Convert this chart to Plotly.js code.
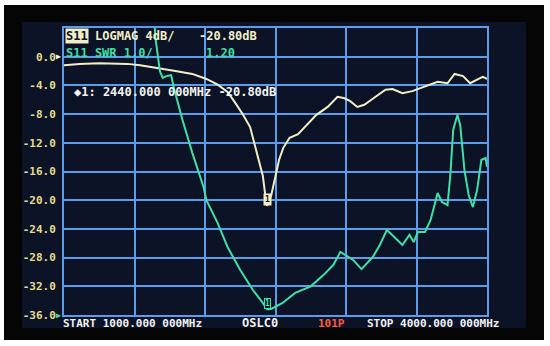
<!DOCTYPE html>
<html>
<head>
<meta charset="utf-8">
<script src="https://cdn.plot.ly/plotly-3.0.1.min.js"></script>
<style>
  html, body { margin: 0; padding: 0; background: #ffffff; }
  #vna { width: 550px; height: 346px; }
</style>
</head>
<body>
<div id="vna"></div>
<script>
// S11 LOGMAG trace (MHz, dB)
var logFreq = [1000, 1110, 1250, 1450, 1540, 1610, 1680, 1790, 1910, 2010, 2090, 2160, 2210, 2270,
  2320, 2350, 2380, 2410, 2425, 2440, 2470, 2500, 2525, 2555, 2600, 2660, 2720, 2790, 2870, 2940,
  2990, 3030, 3080, 3130, 3180, 3280, 3330, 3400, 3470, 3560, 3650, 3720, 3770, 3830, 3880, 3940,
  3970, 4000];
var logMagDb = [-1.2, -1.0, -0.9, -1.0, -1.2, -1.4, -1.7, -2.0, -2.4, -3.1, -3.9, -4.9, -6.3, -8.1,
  -9.8, -12.0, -14.4, -16.6, -18.9, -20.8, -19.3, -16.8, -14.4, -12.7, -11.3, -10.8, -9.5, -8.1, -7.0, -5.6,
  -5.8, -6.2, -7.0, -6.7, -6.0, -4.6, -4.5, -5.1, -4.8, -4.2, -3.5, -3.7, -2.4, -2.7, -3.7, -3.1,
  -2.8, -3.1];

// S11 SWR trace (MHz, ratio)
var swrFreq = [1000, 1400, 1580, 1620, 1650, 1680, 1700, 1730, 1760, 1780, 1840, 1910, 1990, 2010,
  2090, 2160, 2250, 2340, 2410, 2440, 2470, 2550, 2640, 2750, 2840, 2910, 2960, 3010, 3050, 3110,
  3190, 3240, 3290, 3350, 3400, 3450, 3480, 3510, 3560, 3600, 3650, 3680, 3720, 3740, 3760, 3790,
  3810, 3840, 3870, 3900, 3930, 3960, 3990, 4000];
var swrVal = [40, 30, 16, 12.5, 10.6, 9.5, 9.26, 9.33, 9.36, 8.9, 7.8, 6.65, 5.45, 5.0,
  4.2, 3.37, 2.57, 1.87, 1.42, 1.20, 1.21, 1.42, 1.77, 2.0, 2.39, 2.74, 3.2, 3.06, 2.92, 2.6,
  3.02, 3.44, 3.96, 3.68, 3.44, 3.79, 3.54, 3.89, 3.89, 4.31, 5.25, 4.94, 4.83, 5.88, 7.45, 7.97,
  7.62, 6.05, 5.18, 4.76, 5.36, 6.40, 6.47, 6.16];

var xGrid = [1000, 1500, 2000, 2500, 3000, 3500, 4000];
var yTicks = [4, 0, -4, -8, -12, -16, -20, -24, -28, -32, -36];
var swrRange = [1, 11];
var markerFreq = 2440;
var markerDb = -20.80;
var markerSwr = 1.20;
var refDb = 0;

var W = 550, H = 346;
var M = { l: 64, r: 63, t: 28, b: 31 };
function px(x) { return (x - M.l) / (W - M.l - M.r); }
function py(y) { return (H - M.b - y) / (H - M.t - M.b); }

var NAVY = '#0c1326';
var GRID = '#5d9ceb';
var CREAM = '#f2eec6';
var TEAL = '#3fe0a6';
var LABEL = '#e6dc8c';
var MONO = 'DejaVu Sans Mono';

var traces = [
  {
    x: logFreq, y: logMagDb, xaxis: 'x', yaxis: 'y',
    type: 'scatter', mode: 'lines',
    line: { color: CREAM, width: 2 }
  },
  {
    x: swrFreq, y: swrVal, xaxis: 'x', yaxis: 'y2',
    type: 'scatter', mode: 'lines',
    line: { color: TEAL, width: 2 }
  }
];

var tickFont = { family: MONO, size: 11, color: LABEL, weight: 'bold' };

function txt(x, y, s, size, color, extra) {
  var a = {
    xref: 'paper', yref: 'paper', x: px(x), y: py(y),
    xanchor: 'left', yanchor: 'middle', showarrow: false, text: s,
    font: { family: MONO, size: size, color: color, weight: 'bold' }
  };
  for (var k in extra) a[k] = extra[k];
  return a;
}

var annotations = [
  txt(65, 36, 'S11', 12, NAVY, { bgcolor: CREAM, borderpad: 0 }),
  txt(93, 36, 'LOGMAG 4dB/', 12, CREAM),
  txt(197, 36, '-20.80dB', 12, CREAM),
  txt(64, 53, 'S11 SWR 1.0/', 12, TEAL),
  txt(204, 53, '1.20', 12, TEAL),
  txt(72, 92, '\u25C6' + '1: 2440.000 000MHz -20.80dB', 12, '#f4f4f0'),
  txt(61, 323, 'START 1000.000 000MHz', 11, '#f2f2f2'),
  txt(240, 323, 'OSLC0', 12, '#f2f2f2'),
  txt(316, 323, '101P', 11, '#ff5a3c'),
  txt(365, 323, 'STOP 4000.000 000MHz', 11, '#f2f2f2'),
  // reference level arrows
  { xref: 'paper', yref: 'y', x: px(63), y: refDb, xanchor: 'right', yanchor: 'middle',
    showarrow: false, text: '\u25B6', font: { family: MONO, size: 8, color: '#ffffff' } },
  { xref: 'paper', yref: 'y2', x: px(63), y: swrRange[0], xanchor: 'right', yanchor: 'middle',
    showarrow: false, text: '\u25B6', font: { family: MONO, size: 8, color: TEAL } },
  // marker 1 on both traces
  { xref: 'x', yref: 'y', x: markerFreq, y: markerDb, xanchor: 'center', yanchor: 'bottom',
    showarrow: false, text: '1', bgcolor: CREAM, borderpad: 1,
    font: { family: MONO, size: 8, color: NAVY, weight: 'bold' } },
  { xref: 'x', yref: 'y2', x: markerFreq, y: markerSwr, xanchor: 'center', yanchor: 'bottom',
    showarrow: false, text: '1', bgcolor: NAVY, bordercolor: TEAL, borderwidth: 1, borderpad: 0,
    font: { family: MONO, size: 8, color: TEAL, weight: 'bold' } }
];

var shapes = [
  { type: 'rect', xref: 'paper', yref: 'paper', layer: 'below',
    x0: px(4), x1: px(544), y0: py(340), y1: py(5),
    fillcolor: '#050505', line: { width: 0 } },
  { type: 'rect', xref: 'paper', yref: 'paper', layer: 'below',
    x0: px(22), x1: px(526), y0: py(328), y1: py(22),
    fillcolor: NAVY, line: { width: 0 } }
];

var layout = {
  width: W, height: H,
  margin: M,
  paper_bgcolor: '#ffffff',
  plot_bgcolor: NAVY,
  showlegend: false,
  hovermode: false,
  xaxis: {
    range: [1000, 4000], tickvals: xGrid, showticklabels: false, ticks: '',
    showgrid: true, gridcolor: GRID, gridwidth: 2, zeroline: false,
    showline: true, mirror: true, linecolor: GRID, linewidth: 2
  },
  yaxis: {
    range: [-36, 4], tickvals: yTicks,
    ticktext: yTicks.map(function (v) { return v === 4 ? '' : v.toFixed(1); }),
    tickfont: tickFont, ticks: '', ticklabelstandoff: 4,
    showgrid: true, gridcolor: GRID, gridwidth: 2, zeroline: false,
    showline: true, mirror: true, linecolor: GRID, linewidth: 2
  },
  yaxis2: {
    overlaying: 'y', range: swrRange, visible: false
  },
  yaxis3: {
    overlaying: 'y', side: 'right', range: [-36, 4], tickvals: yTicks,
    ticktext: yTicks.map(function (v) { return v.toFixed(1); }),
    tickfont: tickFont, ticks: '', ticklabelstandoff: 8,
    showgrid: false, zeroline: false, showline: false
  },
  annotations: annotations,
  shapes: shapes
};

Plotly.newPlot('vna', traces, layout, { staticPlot: true, displayModeBar: false });
</script>
</body>
</html>
